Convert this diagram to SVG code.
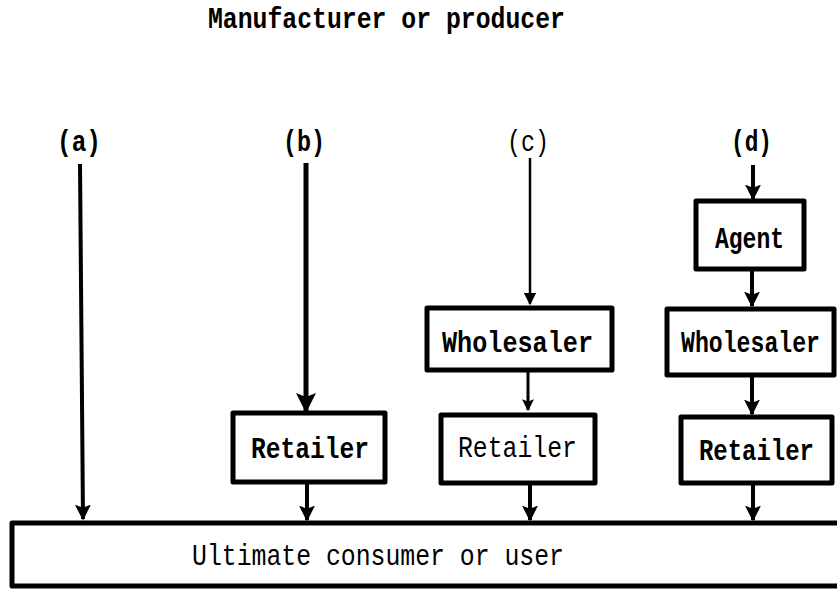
<svg xmlns="http://www.w3.org/2000/svg" width="837" height="590" viewBox="0 0 837 590">
<style>
.box{fill:#fff;stroke:#000;stroke-width:5;stroke-linejoin:round}
.t{font-family:"Liberation Mono","DejaVu Sans Mono",monospace;font-size:29px;fill:#000}
.b{font-weight:bold}
.c{fill:none;stroke:#000;stroke-linecap:butt}
</style>
<defs>
<marker id="ah" viewBox="0 0 10 10" refX="9" refY="5" markerWidth="4" markerHeight="4" orient="auto" markerUnits="strokeWidth">
<path d="M0,0 L10,5 L0,10 L2,5 Z" fill="#000"/>
</marker>
<marker id="ah2" viewBox="0 0 10 10" refX="9" refY="5" markerWidth="5" markerHeight="5" orient="auto" markerUnits="strokeWidth">
<path d="M0,0 L10,5 L0,10 Z" fill="#000"/>
</marker>
</defs>
<rect width="837" height="590" fill="#fff"/>
<text class="t b" x="208" y="28" font-size="27" textLength="357" lengthAdjust="spacingAndGlyphs">Manufacturer or producer</text>
<g id="labels">
<text class="t b" x="57" y="151" font-size="27" textLength="44" lengthAdjust="spacingAndGlyphs">(a)</text>
<text class="t b" x="283" y="151" font-size="27" textLength="42" lengthAdjust="spacingAndGlyphs">(b)</text>
<text class="t" x="507" y="151" font-size="27" textLength="42" lengthAdjust="spacingAndGlyphs">(c)</text>
<text class="t b" x="731" y="151" font-size="27" textLength="41" lengthAdjust="spacingAndGlyphs">(d)</text>
</g>
<g id="consumer">
<rect class="box" x="12" y="523" width="840" height="63"/>
<text class="t" x="192" y="565" textLength="372" lengthAdjust="spacingAndGlyphs">Ultimate consumer or user</text>
</g>
<g id="retailer-b">
<rect class="box" x="233" y="413" width="152" height="69"/>
<text class="t b" x="251" y="458" textLength="118" lengthAdjust="spacingAndGlyphs">Retailer</text>
</g>
<g id="wholesaler-c">
<rect class="box" x="427" y="308" width="185" height="62"/>
<text class="t b" x="442" y="352" textLength="151" lengthAdjust="spacingAndGlyphs">Wholesaler</text>
</g>
<g id="retailer-c">
<rect class="box" x="441" y="415" width="154" height="68"/>
<text class="t" x="458" y="457" textLength="119" lengthAdjust="spacingAndGlyphs">Retailer</text>
</g>
<g id="agent">
<rect class="box" x="696" y="201" width="108" height="68"/>
<text class="t b" x="715" y="248" textLength="69" lengthAdjust="spacingAndGlyphs">Agent</text>
</g>
<g id="wholesaler-d">
<rect class="box" x="667" y="309" width="167" height="66"/>
<text class="t b" x="681" y="352" textLength="139" lengthAdjust="spacingAndGlyphs">Wholesaler</text>
</g>
<g id="retailer-d">
<rect class="box" x="681" y="417" width="151" height="66"/>
<text class="t b" x="699" y="460" textLength="115" lengthAdjust="spacingAndGlyphs">Retailer</text>
</g>
<g id="connectors">
<line class="c" x1="80" y1="164" x2="83" y2="519" stroke-width="4" marker-end="url(#ah)"/>
<line class="c" x1="306" y1="163" x2="306" y2="411" stroke-width="5" marker-end="url(#ah)"/>
<line class="c" x1="530" y1="158" x2="530" y2="304" stroke-width="2.5" marker-end="url(#ah2)"/>
<line class="c" x1="528" y1="370" x2="528" y2="410" stroke-width="3" marker-end="url(#ah)"/>
<line class="c" x1="530" y1="483" x2="530" y2="520" stroke-width="4" marker-end="url(#ah)"/>
<line class="c" x1="307" y1="482" x2="307" y2="520" stroke-width="4" marker-end="url(#ah)"/>
<line class="c" x1="753" y1="165" x2="753" y2="199" stroke-width="4" marker-end="url(#ah)"/>
<line class="c" x1="752" y1="269" x2="752" y2="306" stroke-width="4" marker-end="url(#ah)"/>
<line class="c" x1="752" y1="375" x2="752" y2="414" stroke-width="4" marker-end="url(#ah)"/>
<line class="c" x1="753" y1="483" x2="753" y2="520" stroke-width="4" marker-end="url(#ah)"/>
</g>
</svg>
